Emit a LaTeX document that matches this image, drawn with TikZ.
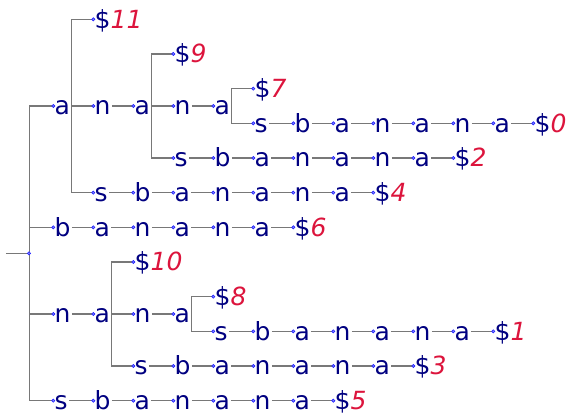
\documentclass[tikz,border=0pt]{standalone}
\usepackage{fontspec}
\setmainfont{DejaVu Sans}[ItalicFont={DejaVu Sans Oblique}]
\definecolor{navytxt}{RGB}{0,0,128}
\definecolor{numred}{RGB}{220,20,60}
\definecolor{edgegray}{RGB}{120,120,120}
\definecolor{dotblue}{RGB}{30,30,255}
\pgfdeclarelayer{bg}
\pgfsetlayers{bg,main}
\tikzset{
  ch/.style={anchor=west, inner xsep=1.2pt, inner ysep=0pt,
    text height=20pt, text depth=2.5pt, text=navytxt,
    font=\fontsize{25}{30}\selectfont},
  edge/.style={draw=edgegray, line width=1.2pt},
  tip/.style={fill=dotblue!55!white, draw=dotblue, line width=0.6pt},
}
\newcommand\leaflbl[1]{\$\textcolor{numred}{\itshape #1}}
\newcommand\chain[4]{%
  \foreach \ltr [count=\k from #3] in {#4} {
    \node[ch] (#1-\k) at (\k,#2) {\ltr};
    \draw[tip] (#1-\k.west) circle (1.6pt);
    \ifnum\k>#3\relax
      \pgfmathtruncatemacro\prevk{\k-1}
      \begin{pgfonlayer}{bg}\draw[edge] (#1-\prevk.east) -- (#1-\k.west);\end{pgfonlayer}
    \fi
  }%
}
\newcommand\branch[4]{%
  \begin{pgfonlayer}{bg}
  \draw[edge] (#1.east |- #2.west) -- (#1.east |- #3.west);
  \foreach \cc in {#4} {\draw[edge] (#1.east |- \cc.west) -- (\cc.west);}
  \end{pgfonlayer}%
}
\begin{document}
\begin{tikzpicture}[x=40pt, y=-34.67pt]
\useasboundingbox (-13.3pt,19.3pt) rectangle (557.7pt,-393.7pt);
% rows of the trie
\chain{m}{2.5}{1}{a,n,a,n,a}
\chain{r0}{0}{2}{{\leaflbl{11}}}
\chain{r1}{1}{4}{{\leaflbl{9}}}
\chain{r2}{2}{6}{{\leaflbl{7}}}
\chain{r3}{3}{6}{s,b,a,n,a,n,a,{\leaflbl{0}}}
\chain{r4}{4}{4}{s,b,a,n,a,n,a,{\leaflbl{2}}}
\chain{r5}{5}{2}{s,b,a,n,a,n,a,{\leaflbl{4}}}
\chain{r6}{6}{1}{b,a,n,a,n,a,{\leaflbl{6}}}
\chain{q}{8.5}{1}{n,a,n,a}
\chain{r7}{7}{3}{{\leaflbl{10}}}
\chain{r8}{8}{5}{{\leaflbl{8}}}
\chain{r9}{9}{5}{s,b,a,n,a,n,a,{\leaflbl{1}}}
\chain{r10}{10}{3}{s,b,a,n,a,n,a,{\leaflbl{3}}}
\chain{r11}{11}{1}{s,b,a,n,a,n,a,{\leaflbl{5}}}
% root
\node[inner sep=0pt, minimum size=0pt] (root) at (0.3925,6.75) {};
\coordinate (rootin) at (-0.1825,6.75);
\draw[tip] (root) circle (1.6pt);
\begin{pgfonlayer}{bg}\draw[edge] (rootin) -- (root);\end{pgfonlayer}
% branchings
\branch{root}{m-1}{r11-1}{m-1,r6-1,q-1,r11-1}
\branch{m-1}{r0-2}{r5-2}{r0-2,m-2,r5-2}
\branch{m-3}{r1-4}{r4-4}{r1-4,m-4,r4-4}
\branch{m-5}{r2-6}{r3-6}{r2-6,r3-6}
\branch{q-2}{r7-3}{r10-3}{r7-3,q-3,r10-3}
\branch{q-4}{r8-5}{r9-5}{r8-5,r9-5}
\end{tikzpicture}
\end{document}
